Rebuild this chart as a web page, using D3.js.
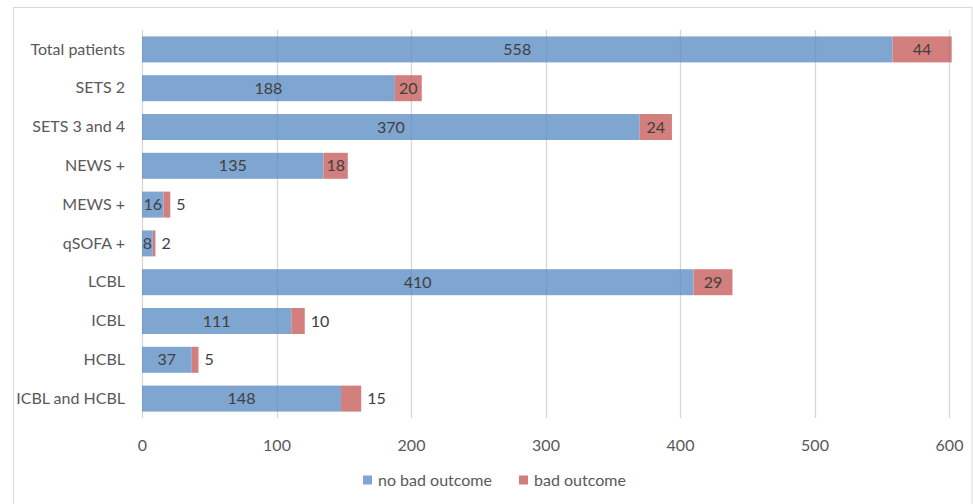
<!DOCTYPE html>
<html>
<head>
<meta charset="utf-8">
<script src="https://cdn.jsdelivr.net/npm/d3@7"></script>
<style>
  html, body { margin: 0; padding: 0; background: #fff; }
  svg { display: block; font-family: Lato, "Open Sans", sans-serif; }
</style>
</head>
<body>
<svg id="chart" width="973" height="504"></svg>
<script>
const categories = ["Total patients", "SETS 2", "SETS 3 and 4", "NEWS +", "MEWS +", "qSOFA +", "LCBL", "ICBL", "HCBL", "ICBL and HCBL"];
const noBadOutcome = [558, 188, 370, 135, 16, 8, 410, 111, 37, 148];
const badOutcome = [44, 20, 24, 18, 5, 2, 29, 10, 5, 15];
const seriesNames = ["no bad outcome", "bad outcome"];
const xTicks = [0, 100, 200, 300, 400, 500, 600];

const colors = ["#7fa5d1", "#d27f7e"];
const FS = 16;
const svg = d3.select("#chart");

// frame
svg.append("rect").attr("x", 13.5).attr("y", 7.5).attr("width", 958.5).attr("height", 510)
  .attr("fill", "#fff").attr("stroke", "#d9d9d9").attr("stroke-width", 1);

const x = d3.scaleLinear().domain([0, 600]).range([142, 949]);
const y = d3.scaleBand().domain(categories).range([30, 418]).paddingInner(0.33).paddingOuter(0.165);

// gridlines under
svg.append("g").selectAll("line").data(xTicks).join("line")
  .attr("x1", d => Math.round(x(d)) + 0.5).attr("x2", d => Math.round(x(d)) + 0.5)
  .attr("y1", 30).attr("y2", 418)
  .attr("stroke", "#e3e3e3").attr("stroke-width", 1.3);

const data = categories.map((c, i) => ({ c, a: noBadOutcome[i], b: badOutcome[i] }));

const rows = svg.append("g").selectAll("g").data(data).join("g");
rows.append("rect")
  .attr("x", x(0)).attr("y", d => y(d.c))
  .attr("width", d => x(d.a) - x(0)).attr("height", y.bandwidth())
  .attr("fill", colors[0]);
rows.append("rect")
  .attr("x", d => x(d.a)).attr("y", d => y(d.c))
  .attr("width", d => x(d.a + d.b) - x(d.a)).attr("height", y.bandwidth())
  .attr("fill", colors[1]);

// faint gridlines over the bars
svg.append("g").selectAll("line").data(xTicks).join("line")
  .attr("x1", d => Math.round(x(d)) + 0.5).attr("x2", d => Math.round(x(d)) + 0.5)
  .attr("y1", 30).attr("y2", 418)
  .attr("stroke", "rgba(0,0,0,0.05)").attr("stroke-width", 1.3);

// value labels
const labelColor = "#404040";
const outside = d => (x(d.a + d.b) - x(d.a)) < 22;
rows.append("text")
  .attr("x", d => (x(0) + x(d.a)) / 2)
  .attr("y", d => y(d.c) + y.bandwidth() / 2)
  .attr("dy", "0.35em").attr("text-anchor", "middle")
  .attr("font-size", FS).attr("fill", labelColor)
  .text(d => d.a);
rows.append("text")
  .attr("x", d => outside(d) ? x(d.a + d.b) + 6 : (x(d.a) + x(d.a + d.b)) / 2)
  .attr("y", d => y(d.c) + y.bandwidth() / 2)
  .attr("dy", "0.35em")
  .attr("text-anchor", d => outside(d) ? "start" : "middle")
  .attr("font-size", FS).attr("fill", labelColor)
  .text(d => d.b);

// category axis
const yAxis = svg.append("g").attr("transform", `translate(${x(0) - 17},0)`)
  .call(d3.axisLeft(y).tickSize(0).tickPadding(0));
yAxis.select(".domain").remove();
yAxis.selectAll("text").attr("font-size", FS).attr("fill", "#595959")
  .attr("font-family", "Lato, 'Open Sans', sans-serif");

// x axis
const xAxis = svg.append("g").attr("transform", `translate(0,418)`)
  .call(d3.axisBottom(x).tickValues(xTicks).tickSize(0).tickPadding(22));
xAxis.select(".domain").remove();
xAxis.selectAll("text").attr("font-size", FS).attr("fill", "#595959")
  .attr("font-family", "Lato, 'Open Sans', sans-serif");

// legend
const legendItems = [
  { name: seriesNames[0], color: colors[0], x: 363 },
  { name: seriesNames[1], color: colors[1], x: 519 }
];
const lg = svg.append("g").selectAll("g").data(legendItems).join("g")
  .attr("transform", d => `translate(${d.x},480)`);
lg.append("rect").attr("x", 0).attr("y", -4.5).attr("width", 9).attr("height", 9).attr("fill", d => d.color);
lg.append("text").attr("x", 15).attr("dy", "0.35em").attr("font-size", FS).attr("fill", "#595959").text(d => d.name);
</script>
</body>
</html>
